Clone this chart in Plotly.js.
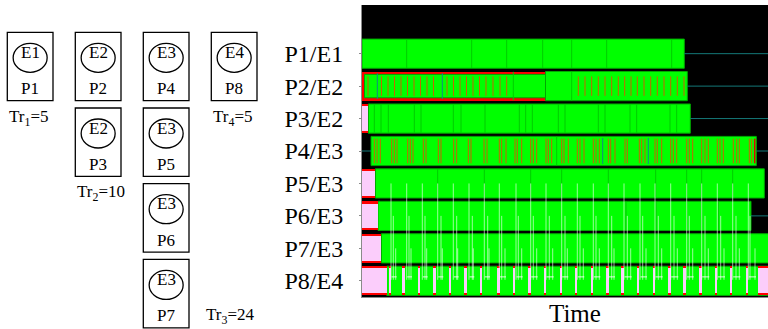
<!DOCTYPE html>
<html><head><meta charset="utf-8">
<script src="https://cdn.plot.ly/plotly-3.0.1.min.js"></script>
<style>html,body{margin:0;padding:0;background:#fff;} #chart{width:768px;height:329px;}</style>
</head><body><div id="chart"></div>
<script>
// ---------- diagram data ----------
const groupNames = ["E1", "E2", "E3", "E4"];
const groupProcs = [["P1"], ["P2", "P3"], ["P4", "P5", "P6", "P7"], ["P8"]];
const groupTr = [5, 10, 24, 5];

// ---------- timeline data (time units) ----------
const rowLabels = ["P1/E1", "P2/E2", "P3/E2", "P4/E3", "P5/E3", "P6/E3", "P7/E3", "P8/E4"];
const timeMax = 406;

// outer (red) state containing nested compute
const outerRow = [2];
const outerStart = [0];
const outerEnd = [183.5];

// compute (green) states
const greenRow = [1, 2, 2, 3, 4, 5, 6, 7, 8];
const greenStart = [0, 2.5, 183.5, 6.3, 9, 13.3, 16, 19.3, 24.7];
const greenEnd = [322.3, 183.5, 325.3, 328.3, 394.3, 402.3, 389, 420, 420];

// wait (pink inside red) states
const waitRow = [3, 5, 6, 7, 8,
  8, 8, 8, 8, 8, 8, 8, 8, 8, 8, 8, 8, 8, 8, 8, 8, 8, 8, 8, 8, 8, 8, 8, 8, 8];
const waitStart = [0, 0, 0, 0, 0,
  26.8, 40.1, 55.5, 71.1, 86.5, 102.1, 117.8, 135.3, 150.8, 166.3, 181.8, 197.5,
  212.8, 228.5, 244.1, 259.3, 274.8, 290.5, 306.1, 321.1, 337.1, 352.8, 367.8, 383.8, 395.7];
const waitEnd = [6.3, 13.3, 16, 19.3, 24.7,
  29.3, 42.6, 58, 73.6, 89, 104.6, 120.3, 137.8, 153.3, 168.8, 184.3, 200,
  215.3, 231, 246.6, 261.8, 277.3, 293, 308.6, 323.6, 339.6, 355.3, 370.3, 386.3, 420];

// sub-state boundaries (dark green)
const dividerRow = [1, 1, 1, 1, 1, 1, 1, 2, 2,
  3, 3, 3, 3, 3, 3, 3, 3, 3, 3, 3, 3, 3, 3, 3, 3, 3, 3, 3,
  4, 5, 5, 5, 5, 5, 5, 5, 5, 5, 6, 6, 6, 6, 6];
const dividerTime = [44.7, 109.7, 144.7, 180.7, 209.7, 244.7, 309.7, 151.3, 209.7,
  12.3, 19, 26.3, 52.3, 59, 91.3, 99, 123, 157.3, 163.7, 170.3, 196.3, 203, 236.3, 243, 268, 274.7, 308, 314.7,
  194.7, 75.7, 122.3, 168.7, 199.7, 246.3, 293.7, 324.7, 339.7, 370.7, 264, 294, 324.7, 339.7, 356.3];

// orange events
const orangeP2 = [6, 19.5, 26, 32.5, 39, 45.5, 52, 58.5, 65, 71.5, 85, 91.5, 98, 104.5, 111, 117.5, 124,
  131, 138, 144.7, 216.3, 223, 229.7, 236.3, 243, 249.7, 256.3, 262.7, 269, 275.3, 282, 288.7,
  295.3, 302, 308.7, 315.3, 322];
const orangeP4 = [12.3, 15, 18.3, 29.7, 32.3, 35, 45.7, 48.3, 51, 61.3, 64, 76.3, 79, 91.7, 94.7,
  106.3, 109, 122, 125, 137.3, 139.7, 144, 153, 155.3, 159.7, 168.7, 171.3, 174.7, 184, 186.3, 189.7,
  199.7, 202, 206.3, 215.3, 218, 222, 231.3, 234, 237.3, 246.3, 248.7, 253, 263, 265.3, 277.3, 279.7, 283,
  293, 295.3, 299.7, 308.7, 311.3, 314.7, 324.7, 327.3, 330.7, 339.7, 343, 346.3, 355.3, 358, 361.3,
  371.3, 374.7, 377.3, 387.3, 389.7];
const redEventP4 = [392.7];

// teal events
const tealRow = [2, 2, 4, 4];
const tealTime = [15.3, 80.3, 240.7, 286.3];

// idle timeline segments
const idleRow = [1, 2, 3, 4, 4, 6];
const idleStart = [322.3, 325.3, 328.3, 0, 394.3, 389];
const idleEnd = [406, 406, 406, 9, 406, 406];

// messages to P8
const p5Send = [29, 44.7, 60.3, 75.7, 91.3, 107, 122.3, 137.3, 154, 168.7, 184, 199.7, 215.3, 231.3,
  246.3, 262, 278, 293, 308.7, 324.7, 339.7, 355.3, 370.7, 386.3];
const p6Send = [31.3, 47, 63, 79, 94.7, 110.3, 125.7, 139.7, 156.3, 171.3, 187.3, 203, 218, 234,
  249.7, 265.3, 280.7, 296.3, 312, 327.3, 343, 358.7, 374, 388];
const p7Send = [33.7, 49, 64.7, 80.3, 95.7, 111.3, 127, 143, 159.7, 174.7, 190.7, 205.3, 221.3, 237.3,
  252, 268.7, 284, 299.7, 315.3, 330.7, 346.3, 362, 377.3, 393];

// ---------- helpers ----------
function barTrace(rows, starts, ends, color, widthFn, lineColor) {
  return {
    type: 'bar', orientation: 'h',
    y: rows, base: starts, x: ends.map((e, i) => e - starts[i]),
    width: rows.map((r, i) => widthFn(i)),
    marker: {color: color, line: {color: lineColor || color, width: lineColor ? 1 : 0}},
    hoverinfo: 'skip', showlegend: false
  };
}
function vLines(rows, times, half, color, w) {
  const x = [], y = [];
  times.forEach((t, i) => { x.push(t, t, null); y.push(rows[i] - half, rows[i] + half, null); });
  return {type: 'scatter', mode: 'lines', x, y, line: {color, width: w || 1}, hoverinfo: 'skip', showlegend: false};
}
function hLines(rows, starts, ends, color, w) {
  const x = [], y = [];
  rows.forEach((r, i) => { x.push(starts[i], ends[i], null); y.push(r, r, null); });
  return {type: 'scatter', mode: 'lines', x, y, line: {color, width: w || 1}, hoverinfo: 'skip', showlegend: false};
}

const traces = [];
traces.push(barTrace(outerRow, outerStart, outerEnd, '#ff0000', () => 0.9));
traces.push(barTrace(greenRow, greenStart, greenEnd, '#00ff00', i => {
  const r = greenRow[i];
  const nested = outerRow.some((o, k) => o === r && greenStart[i] >= outerStart[k] && greenEnd[i] <= outerEnd[k]);
  return nested ? 0.72 : 0.9;
}, '#00a800'));
traces.push(barTrace(waitRow, waitStart, waitEnd, '#ff0000', () => 0.9));
traces.push(barTrace(waitRow, waitStart, waitEnd, '#fbcdfb', () => 0.76));
traces.push(vLines(dividerRow, dividerTime, 0.44, '#00cc00', 1));
traces.push(vLines(orangeP2.map(() => 2), orangeP2, 0.3, '#c86400', 1));
traces.push(vLines(orangeP4.map(() => 4), orangeP4, 0.38, '#c86400', 1));
traces.push(vLines(redEventP4.map(() => 4), redEventP4, 0.38, '#e00000', 1.5));
traces.push(vLines(tealRow, tealTime, 0.4, '#128888', 1));
traces.push(hLines(idleRow, idleStart, idleEnd, '#147878', 1));

// message lines from P5, P6, P7 to P8 plus arrival marks
(function () {
  const x = [], y = [];
  [[5, p5Send], [6, p6Send], [7, p7Send]].forEach(([row, arr]) => {
    arr.forEach(t => { x.push(t, t, null); y.push(row, 7.97, null); });
  });
  const mx = [], my = [];
  p5Send.forEach((t, i) => {
    const b = p7Send[i] !== undefined ? p7Send[i] + 1 : t + 5;
    mx.push(t + 0.5, b, null); my.push(7.88, 7.88, null);
  });
  traces.push({type: 'scatter', mode: 'lines', x, y, line: {color: 'rgba(255,255,255,0.6)', width: 1}, hoverinfo: 'skip', showlegend: false});
  traces.push({type: 'scatter', mode: 'lines', x: mx, y: my, line: {color: 'rgba(255,255,255,0.85)', width: 1}, hoverinfo: 'skip', showlegend: false});
})();

// ---------- diagram (paper coordinates from pixel positions) ----------
const W = 768, H = 329;
const px = v => v / W;
const py = v => 1 - v / H;
const shapes = [], annotations = [];
const serif = '"Liberation Serif", "Times New Roman", serif';

// black plot background
shapes.push({type: 'rect', xref: 'x domain', yref: 'y domain', x0: 0, x1: 1, y0: 0, y1: 1,
  fillcolor: '#000000', line: {width: 0}, layer: 'below'});

const colX0 = 7.3, colStep = 68, rowY0 = 32.3, rowStep = 75.7, boxW = 45.7, boxH = 68.4;
const maxMembers = Math.max(...groupProcs.map(g => g.length));
groupProcs.forEach((procs, c) => {
  const left = colX0 + colStep * c;
  const cx = left + boxW / 2;
  procs.forEach((p, r) => {
    const top = rowY0 + rowStep * r;
    shapes.push({type: 'rect', xref: 'paper', yref: 'paper', x0: px(left), x1: px(left + boxW), y0: py(top), y1: py(top + boxH),
      line: {color: '#000', width: 1.3}, fillcolor: 'rgba(0,0,0,0)'});
    shapes.push({type: 'circle', xref: 'paper', yref: 'paper', x0: px(cx - 17), x1: px(cx + 17), y0: py(top + 11), y1: py(top + 40),
      line: {color: '#000', width: 1.3}, fillcolor: 'rgba(0,0,0,0)'});
    annotations.push({xref: 'paper', yref: 'paper', x: px(cx), y: py(top + 20), text: groupNames[c], showarrow: false,
      font: {family: serif, size: 17, color: '#000'}, xanchor: 'center', yanchor: 'middle'});
    annotations.push({xref: 'paper', yref: 'paper', x: px(cx), y: py(top + 56.5), text: p, showarrow: false,
      font: {family: serif, size: 17, color: '#000'}, xanchor: 'center', yanchor: 'middle'});
  });
  const n = procs.length;
  let tx, ty;
  if (n === maxMembers) { tx = left + colStep - 7; ty = rowY0 + rowStep * (n - 1) + 56.5; }
  else { tx = left; ty = rowY0 + rowStep * (n - 1) + boxH + 17; }
  annotations.push({xref: 'paper', yref: 'paper', x: px(tx), y: py(ty), text: 'Tr<sub>' + (c + 1) + '</sub>=' + groupTr[c],
    showarrow: false, font: {family: serif, size: 17, color: '#000'}, xanchor: 'left', yanchor: 'middle'});
});

annotations.push({xref: 'paper', yref: 'paper', x: px(575), y: py(313), text: 'Time', showarrow: false,
  font: {family: serif, size: 25, color: '#000'}, xanchor: 'center', yanchor: 'middle'});

const layout = {
  width: W, height: H,
  margin: {l: 0, r: 0, t: 0, b: 0, pad: 0},
  paper_bgcolor: '#ffffff', plot_bgcolor: 'rgba(0,0,0,0)',
  barmode: 'overlay', bargap: 0,
  showlegend: false,
  xaxis: {domain: [362 / W, 1], range: [0, timeMax], showgrid: false, zeroline: false,
    showticklabels: false, ticks: '', showline: true, linecolor: '#8a8a8a', linewidth: 1, fixedrange: true},
  yaxis: {domain: [32 / H, 324 / H], range: [8.5, -0.5], tickvals: [1, 2, 3, 4, 5, 6, 7, 8],
    ticktext: rowLabels, showgrid: false, zeroline: false, showline: true, linecolor: '#8a8a8a', linewidth: 1,
    ticks: 'outside', ticklen: 2, tickcolor: '#8a8a8a', ticklabelstandoff: 11,
    tickfont: {family: serif, size: 24, color: '#000'}, fixedrange: true},
  shapes, annotations
};

Plotly.newPlot('chart', traces, layout, {displayModeBar: false, staticPlot: true});
</script>
</body></html>
